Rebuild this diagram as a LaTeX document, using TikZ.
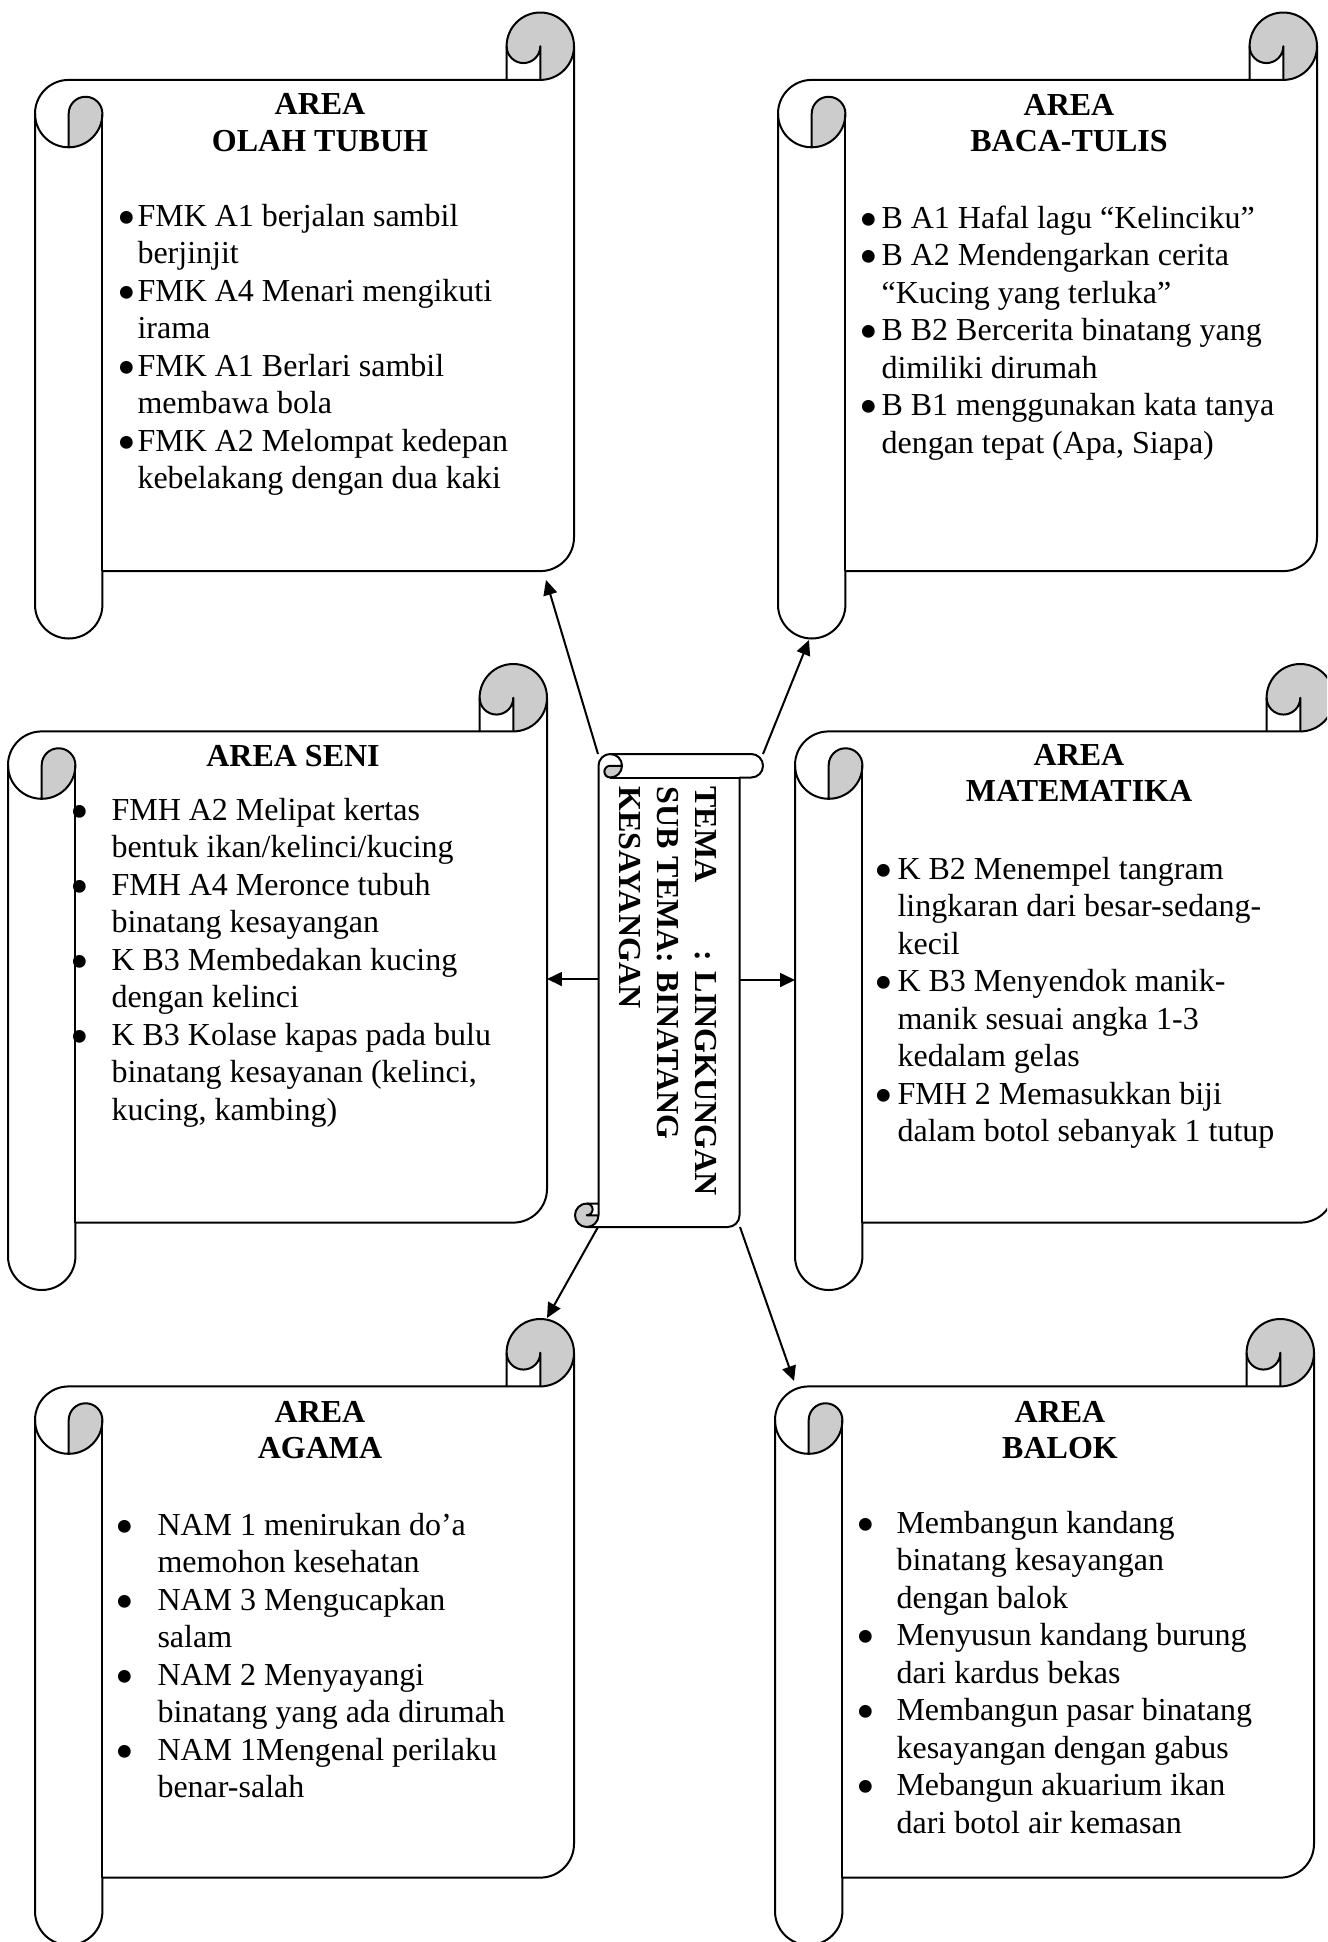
\documentclass[tikz,border=0pt]{standalone}
\usepackage{fontspec}
\setmainfont{Liberation Serif}
\usetikzlibrary{arrows.meta}
\definecolor{curlgrey}{RGB}{204,204,204}
\tikzset{
  outl/.style={line width=0.75pt, line join=round},
  txt/.style={anchor=base west, inner sep=0pt, font=\fontsize{12}{13.8}\selectfont},
  ttl/.style={anchor=base, inner sep=0pt, font=\fontsize{12}{13.8}\selectfont\bfseries},
  bul/.style={anchor=base, inner sep=0pt, font=\fontsize{20}{20}\selectfont},
  ctr/.style={anchor=base west, inner sep=0pt, rotate=-90, font=\fontsize{12}{13.8}\selectfont\bfseries},
  arr/.style={line width=0.75pt, -{Triangle[length=5.6pt,width=5.2pt]}},
}
% outline of a scroll (uses macros set by \scrollshape)
\newcommand{\outlinepath}{(\sL,\yC) arc[start angle=180,delta angle=90,radius=\rR]
  -- (\xC,\yB) -- (\xC,\yA) arc[start angle=180,delta angle=180,radius=\rR]
  -- (\sR,\yE) arc[start angle=0,delta angle=90,radius=\rR]
  -- (\xN,\yF) -- (\xN,\yG) arc[start angle=0,delta angle=180,radius=\rR] -- cycle}
% #1 left, #2 top, #3 right, #4 bottom, #5 roll size
\newcommand{\scrollshape}[5]{%
  \pgfmathsetmacro\sL{#1}\pgfmathsetmacro\sR{#3}%
  \pgfmathsetmacro\rR{#5/2}\pgfmathsetmacro\qQ{#5/4}%
  \pgfmathsetmacro\yA{#2+#5/2}\pgfmathsetmacro\yB{#2+#5}%
  \pgfmathsetmacro\yC{#2+1.5*#5}\pgfmathsetmacro\yD{#2+2*#5}%
  \pgfmathsetmacro\yE{#4-1.5*#5}\pgfmathsetmacro\yF{#4-#5}\pgfmathsetmacro\yG{#4-#5/2}%
  \pgfmathsetmacro\xC{#3-#5}\pgfmathsetmacro\xD{#3-#5/2}%
  \pgfmathsetmacro\xM{#1+#5/2}\pgfmathsetmacro\xN{#1+#5}%
  \path[fill=white] \outlinepath;
  \fill[curlgrey] (\xM,\yD) arc[start angle=90,delta angle=-90,radius=\rR]
     arc[start angle=0,delta angle=-180,radius=\qQ] -- cycle;
  \fill[curlgrey] (\xD,\yB) arc[start angle=90,delta angle=-270,radius=\rR]
     arc[start angle=180,delta angle=-180,radius=\qQ] -- cycle;
  \draw[outl] \outlinepath;
  \draw[outl] (\xC,\yB) -- (\xD,\yB) arc[start angle=90,delta angle=-90,radius=\rR];
  \draw[outl] (\xD,\yB) -- (\xD,\yA) arc[start angle=0,delta angle=180,radius=\qQ];
  \draw[outl] (\xM,\yD) -- (\xM,\yC) arc[start angle=180,delta angle=180,radius=\qQ]
     arc[start angle=0,delta angle=180,radius=\rR];
  \draw[outl] (\xN,\yC) -- (\xN,\yF);
}
% #1 name, #2 text x, #3 first baseline, #4 bullet x, #5 bullet lines, #6 lines
\newcommand{\textblock}[6]{%
  \foreach \myline [count=\i from 0] in {#6} {\node[txt] (#1-\i) at (#2, #3+\i*37.5) {\myline};}
  \foreach \j in {#5} {\node[bul] (#1-b\j) at (#4, #3+9+\j*37.5) {\textbullet};}
}
\begin{document}
\begin{tikzpicture}[x=0.375pt, y=-0.375pt]
\clip (0,0) rectangle (1327,1942);
\fill[white] (0,0) rectangle (1327,1942);

% ---------- scrolls ----------
\scrollshape{35}{12.5}{574}{638.5}{67.4}
\scrollshape{778}{12.5}{1317}{638.5}{67.4}
\scrollshape{8}{664}{547}{1290}{67.4}
\scrollshape{795}{664}{1334}{1290}{67.4}
\scrollshape{35}{1319}{574}{1945}{67.4}
\scrollshape{775}{1319}{1314}{1945}{67.4}
\begin{scope}[x={(0pt,-0.375pt)}, y={(0.375pt,0pt)}]
  \scrollshape{754}{575}{1227}{763}{23.5}
\end{scope}

% ---------- titles ----------
\node[ttl] (olahT1) at (320,114) {AREA};
\node[ttl] (olahT2) at (320,151) {OLAH TUBUH};
\node[ttl] (bacaT1) at (1069,115) {AREA};
\node[ttl] (bacaT2) at (1069,151) {BACA-TULIS};
\node[ttl] (seniT) at (293,766) {AREA SENI};
\node[ttl] (mateT1) at (1079,765) {AREA};
\node[ttl] (mateT2) at (1079,801) {MATEMATIKA};
\node[ttl] (agamaT1) at (320,1422) {AREA};
\node[ttl] (agamaT2) at (320,1458) {AGAMA};
\node[ttl] (balokT1) at (1060,1422) {AREA};
\node[ttl] (balokT2) at (1060,1458) {BALOK};

% ---------- lists ----------
\textblock{olah}{137}{226}{127}{0,2,4,6}{{FMK A1 berjalan sambil},{berjinjit},{FMK A4 Menari mengikuti},{irama},{FMK A1 Berlari sambil},{membawa bola},{FMK A2 Melompat kedepan},{kebelakang dengan dua kaki}}
\textblock{baca}{881}{228}{869}{0,1,3,5}{{B A1 Hafal lagu “Kelinciku”},{B A2 Mendengarkan cerita},{“Kucing yang terluka”},{B B2 Bercerita binatang yang},{dimiliki dirumah},{B B1 menggunakan kata tanya},{dengan tepat (Apa, Siapa)}}
\textblock{seni}{111}{820}{80}{0,2,4,6}{{FMH A2 Melipat kertas},{bentuk ikan/kelinci/kucing},{FMH A4 Meronce tubuh},{binatang kesayangan},{K B3 Membedakan kucing},{dengan kelinci},{K B3 Kolase kapas pada bulu},{binatang kesayanan (kelinci,},{kucing, kambing)}}
\textblock{mate}{897}{879}{884}{0,3,6}{{K B2 Menempel tangram},{lingkaran dari besar-sedang-},{kecil},{K B3 Menyendok manik-},{manik sesuai angka 1-3},{kedalam gelas},{FMH 2 Memasukkan biji},{dalam botol sebanyak 1 tutup}}
\textblock{agama}{157}{1535}{125}{0,2,4,6}{{NAM 1 menirukan do’a},{memohon kesehatan},{NAM 3 Mengucapkan},{salam},{NAM 2 Menyayangi},{binatang yang ada dirumah},{NAM 1Mengenal perilaku},{benar-salah}}
\textblock{balok}{896}{1533}{866}{0,3,5,7}{{Membangun kandang},{binatang kesayangan},{dengan balok},{Menyusun kandang burung},{dari kardus bekas},{Membangun pasar binatang},{kesayangan dengan gabus},{Mebangun akuarium ikan},{dari botol air kemasan}}

% ---------- centre text ----------
\node[ctr] (tema1) at (695,786) {\makebox[61.5pt][l]{TEMA}: LINGKUNGAN};
\node[ctr] (tema2) at (657,786) {SUB TEMA: BINATANG};
\node[ctr] (tema3) at (619,786) {KESAYANGAN};

% ---------- connectors ----------
\coordinate (cNW) at (598,754);
\coordinate (cNE) at (763,754);
\coordinate (cW) at (598,979);
\coordinate (cE) at (740,980);
\coordinate (cSW) at (598,1227);
\coordinate (cSE) at (740,1227);
\coordinate (olahTip) at (546,580);
\coordinate (bacaTip) at (809,640);
\coordinate (seniTip) at (547,979);
\coordinate (mateTip) at (795,980);
\coordinate (agamaTip) at (547,1318);
\coordinate (balokTip) at (794,1381);
\draw[arr] (cNW) -- (olahTip);
\draw[arr] (cNE) -- (bacaTip);
\draw[arr] (cW) -- (seniTip);
\draw[arr] (cE) -- (mateTip);
\draw[arr] (cSW) -- (agamaTip);
\draw[arr] (cSE) -- (balokTip);
\end{tikzpicture}
\end{document}
